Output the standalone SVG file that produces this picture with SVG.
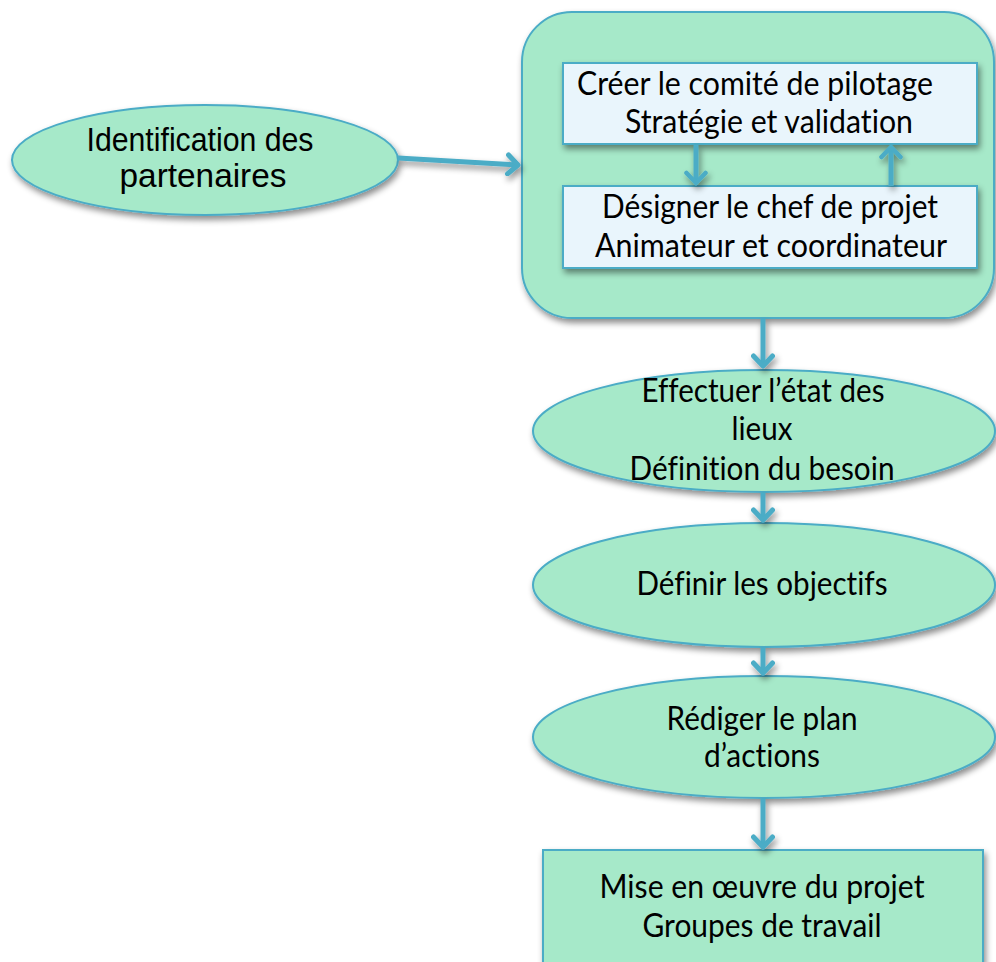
<svg xmlns="http://www.w3.org/2000/svg" width="996" height="962" viewBox="0 0 996 962">
<defs>
<filter id="sh" x="-10%" y="-10%" width="120%" height="130%">
<feDropShadow dx="2" dy="4" stdDeviation="3" flood-color="#000" flood-opacity="0.45"/>
</filter>
<marker id="ah" viewBox="0 0 16 24" refX="13" refY="12" markerWidth="16" markerHeight="24" markerUnits="userSpaceOnUse" orient="auto">
<polyline points="3,2.5 13,12 3,21.5" fill="none" stroke="#4bacc6" stroke-width="4.5" stroke-linecap="round" stroke-linejoin="round"/>
</marker>
<marker id="ah2" viewBox="0 0 16 24" refX="13" refY="12" markerWidth="16" markerHeight="24" markerUnits="userSpaceOnUse" orient="auto">
<polyline points="3,2.5 13,12 3,21.5" fill="none" stroke="#4bacc6" stroke-width="5" stroke-linecap="round" stroke-linejoin="round"/>
</marker>
</defs>
<style>
.node{fill:#a6e9c9;stroke:#4bacc6;stroke-width:2}
.inner{fill:#e9f5fc;stroke:#4bacc6;stroke-width:2}
.c{stroke:#4bacc6;stroke-width:5;fill:none}
.t{font-family:Lato,"Liberation Sans",sans-serif;font-size:32px;fill:#000;text-anchor:middle;font-variant-ligatures:none}
.a{font-family:"Liberation Sans",Arial,sans-serif;font-size:33px;fill:#000;text-anchor:middle}
</style>
<g id="n-comite-box">
<rect class="node" x="522" y="12" width="472" height="306" rx="50" filter="url(#sh)"/>
</g>
<g id="n-identification">
<ellipse class="node" cx="205" cy="160" rx="193" ry="55" filter="url(#sh)"/>
<text class="a" x="200" y="151" textLength="227" lengthAdjust="spacingAndGlyphs">Identification des</text>
<text class="a" x="203" y="187" textLength="167" lengthAdjust="spacingAndGlyphs">partenaires</text>
</g>
<g id="n-comite">
<rect class="inner" x="563" y="63" width="414" height="81" filter="url(#sh)"/>
<text class="t" x="755" y="95" textLength="356" lengthAdjust="spacingAndGlyphs">Créer le comité de pilotage</text>
<text class="t" x="769" y="133" textLength="288" lengthAdjust="spacingAndGlyphs">Stratégie et validation</text>
</g>
<g id="n-chef">
<rect class="inner" x="563" y="186" width="414" height="82" filter="url(#sh)"/>
<text class="t" x="770" y="218" textLength="336" lengthAdjust="spacingAndGlyphs">Désigner le chef de projet</text>
<text class="t" x="771" y="257" textLength="352" lengthAdjust="spacingAndGlyphs">Animateur et coordinateur</text>
</g>
<g id="n-etat">
<ellipse class="node" cx="764" cy="431" rx="231" ry="61" filter="url(#sh)"/>
<text class="t" x="763" y="402" textLength="243" lengthAdjust="spacingAndGlyphs">Effectuer l’état des</text>
<text class="t" x="762" y="440" textLength="61" lengthAdjust="spacingAndGlyphs">lieux</text>
<text class="t" x="762" y="480" textLength="265" lengthAdjust="spacingAndGlyphs">Définition du besoin</text>
</g>
<g id="n-objectifs">
<ellipse class="node" cx="764" cy="585" rx="231" ry="62" filter="url(#sh)"/>
<text class="t" x="762" y="595" textLength="251" lengthAdjust="spacingAndGlyphs">Définir les objectifs</text>
</g>
<g id="n-plan">
<ellipse class="node" cx="764" cy="737" rx="231" ry="61" filter="url(#sh)"/>
<text class="t" x="762" y="730" textLength="191" lengthAdjust="spacingAndGlyphs">Rédiger le plan</text>
<text class="t" x="762" y="767" textLength="116" lengthAdjust="spacingAndGlyphs">d’actions</text>
</g>
<g id="n-oeuvre">
<rect class="node" x="543" y="850" width="440" height="130" filter="url(#sh)"/>
<text class="t" x="762" y="898" textLength="325" lengthAdjust="spacingAndGlyphs">Mise en œuvre du projet</text>
<text class="t" x="762" y="937" textLength="239" lengthAdjust="spacingAndGlyphs">Groupes de travail</text>
</g>
<g id="connectors" filter="url(#sh)">
<line class="c" x1="398" y1="158" x2="518" y2="165" marker-end="url(#ah2)"/>
<line class="c" x1="696" y1="145" x2="696" y2="183" stroke-width="4.5" marker-end="url(#ah)"/>
<line class="c" x1="891" y1="186" x2="891" y2="147" stroke-width="4.5" marker-end="url(#ah)"/>
<line class="c" x1="763" y1="319" x2="763" y2="366" marker-end="url(#ah2)"/>
<line class="c" x1="763" y1="493" x2="763" y2="520" marker-end="url(#ah2)"/>
<line class="c" x1="763" y1="648" x2="763" y2="673" marker-end="url(#ah2)"/>
<line class="c" x1="763" y1="799" x2="763" y2="847" marker-end="url(#ah2)"/>
</g>
</svg>
